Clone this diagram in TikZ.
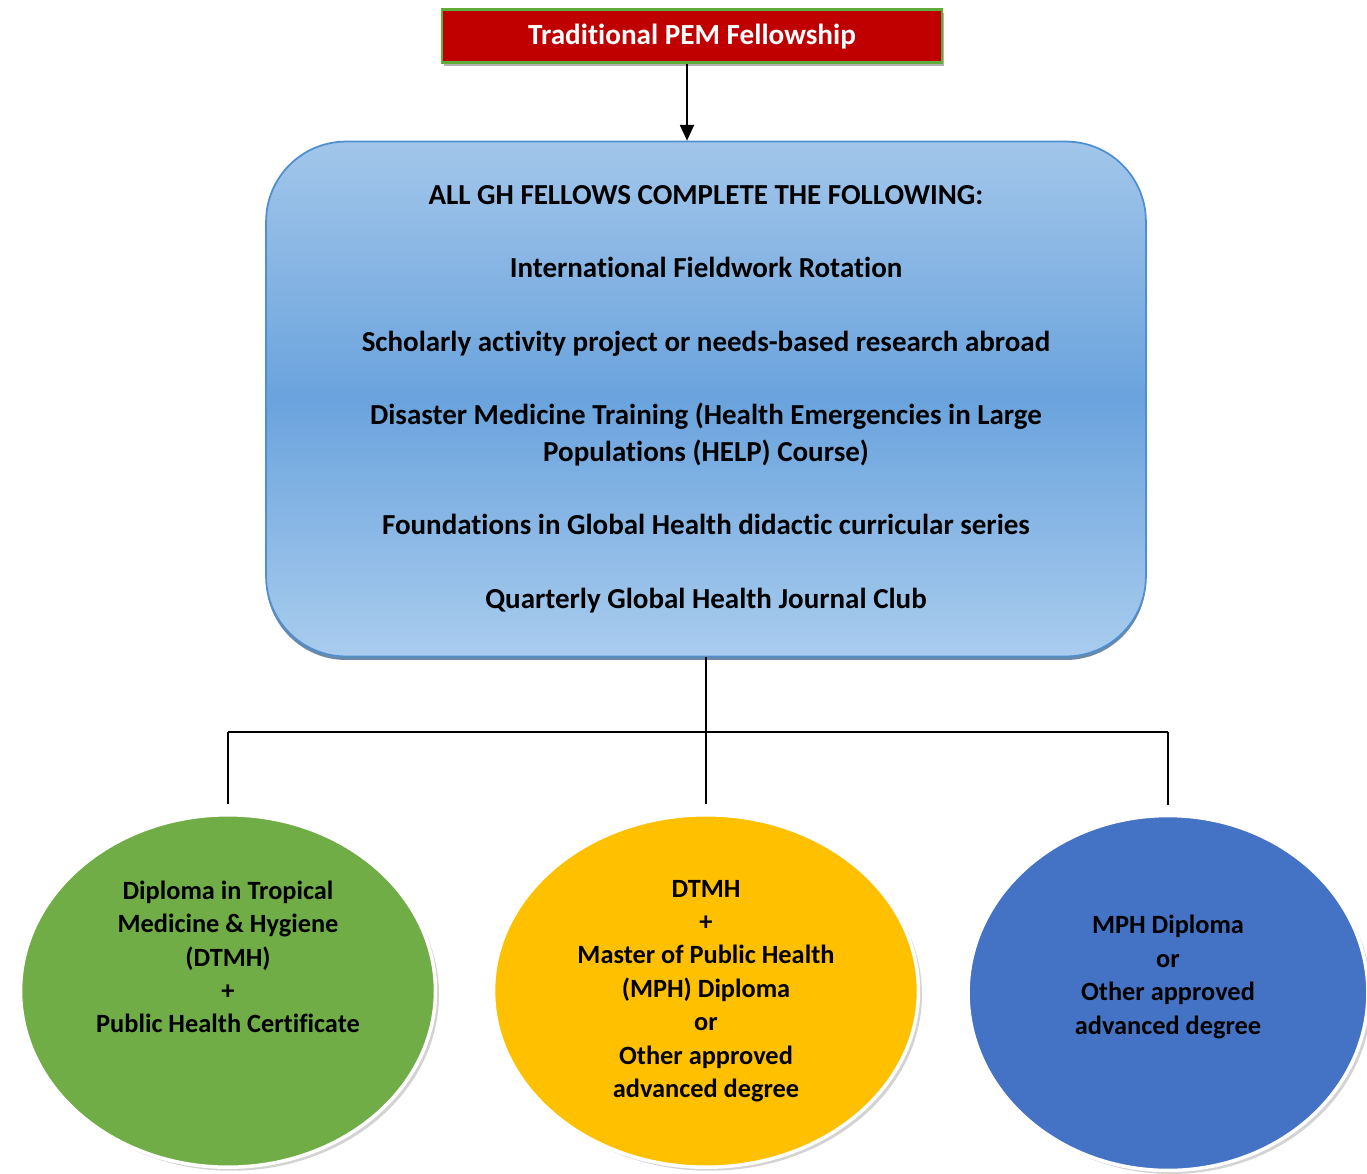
\documentclass[tikz,border=0pt]{standalone}
\usepackage{fontspec}
\setmainfont{Carlito}[Ligatures=NoCommon]
\usetikzlibrary{shapes.geometric,shadows,arrows.meta}
\definecolor{pemred}{HTML}{C00000}
\definecolor{pemgreen}{HTML}{5FAE3A}
\definecolor{skytop}{HTML}{A2C6EA}
\definecolor{skymid}{HTML}{6AA3DD}
\definecolor{skybot}{HTML}{A9CCEE}
\definecolor{skyline}{HTML}{4F8FD0}
\definecolor{leaf}{HTML}{70AD47}
\definecolor{gold}{HTML}{FFC000}
\definecolor{royal}{HTML}{4472C4}
\tikzset{
  titlebox/.style={fill=pemred, draw=pemgreen, line width=1.5pt,
    minimum width=10cm, minimum height=1.05cm, text=white,
    font=\fontsize{16.6}{19}\selectfont\bfseries,
    drop shadow={shadow xshift=1pt, shadow yshift=-2pt, opacity=0.6}},
  corebox/.style={rounded corners=1.6cm, draw=skyline, line width=1pt,
    top color=skytop, bottom color=skybot, middle color=skymid,
    minimum width=17.6cm, minimum height=10.3cm, align=center,
    font=\fontsize{16.5}{21}\selectfont\bfseries,
    drop shadow={shadow xshift=0pt, shadow yshift=-2pt, fill=skyline!60!black, opacity=0.7}},
  degree/.style={ellipse, draw=white, line width=2pt, inner sep=0pt,
    drop shadow={shadow xshift=2pt, shadow yshift=-2pt, opacity=0.35}},
  degtext/.style={align=center, font=\fontsize{15}{19}\selectfont\bfseries},
  link/.style={black, line width=1.1pt},
  arr/.style={link, -{Triangle[length=9pt, width=8pt]}}
}
\begin{document}
\begin{tikzpicture}[x=0.02cm, y=-0.02cm]
  \useasboundingbox (0,0) rectangle (1367,1174);
  % --- fellowship and common requirements ---
  \node[titlebox, text depth=0.05cm] (pem) at (692,36) {Traditional PEM Fellowship};
  \node[corebox] (core) at (706,399) {%
    ALL GH FELLOWS COMPLETE THE FOLLOWING:\\[0.73cm]
    International Fieldwork Rotation\\[0.73cm]
    Scholarly activity project or needs-based research abroad\\[0.73cm]
    Disaster Medicine Training (Health Emergencies in Large\\
    Populations (HELP) Course)\\[0.73cm]
    Foundations in Global Health didactic curricular series\\[0.73cm]
    Quarterly Global Health Journal Club};
  \coordinate (stem) at (687,0);
  \draw[arr] (pem.south -| stem) -- (core.north -| stem);
  % --- degree tracks ---
  \node[degree, fill=leaf, minimum width=8.3cm, minimum height=7.05cm] (dtmh) at (228,991) {};
  \node[degree, fill=gold, minimum width=8.5cm, minimum height=7.05cm] (dual) at (706,991) {};
  \node[degree, fill=royal, minimum width=8.0cm, minimum height=7.1cm] (mph) at (1168,993) {};
  \node[degtext] (dtmhtext) at (228,957) {Diploma in Tropical\\ Medicine \& Hygiene\\ (DTMH)\\ +\\ Public Health Certificate};
  \node[degtext] (dualtext) at (706,991) {DTMH\\ +\\ Master of Public Health\\ (MPH) Diploma\\ or\\ Other approved\\ advanced degree};
  \node[degtext] (mphtext) at (1168,977) {MPH Diploma\\ or\\ Other approved\\ advanced degree};
  % --- branching connector ---
  \coordinate (bus) at (706,732);
  \draw[link] (core.south) -- (bus);
  \draw[link] (bus -| dtmh) -- (bus -| mph);
  \foreach \track in {dtmh, dual, mph}
    \draw[link, shorten >=0.18cm] (bus -| \track) -- (\track.north);
\end{tikzpicture}
\end{document}
